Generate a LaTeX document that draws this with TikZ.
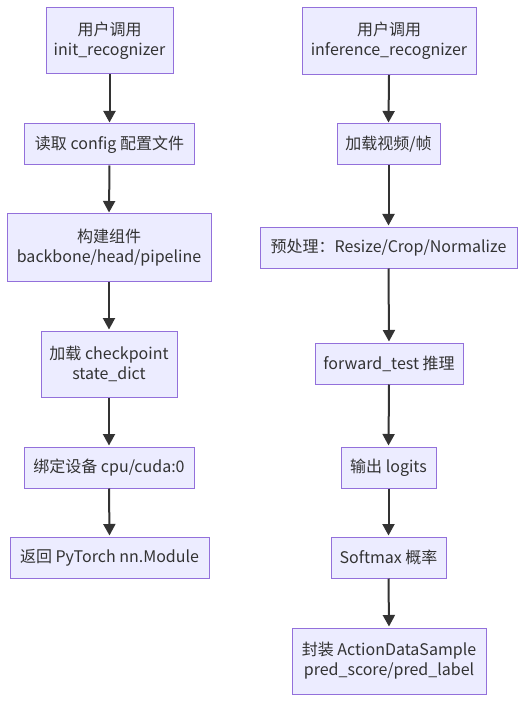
\documentclass[tikz,border=0pt]{standalone}
\usepackage{fontspec}
\setmainfont{Noto Sans CJK SC}
\usetikzlibrary{arrows.meta}
\definecolor{boxfill}{HTML}{ECECFF}
\definecolor{boxline}{HTML}{9370DB}
\definecolor{ink}{HTML}{333333}
\tikzset{
  box/.style={draw=boxline, fill=boxfill, line width=1pt, text=ink, align=center,
    inner sep=0pt, font=\fontsize{16pt}{20pt}\selectfont},
  flow/.style={draw=ink, line width=2pt, -{Triangle[length=11.5pt,width=12pt]}, shorten >=1pt}
}
\newcommand{\bx}[6]{\node[box, minimum width=#4pt, minimum height=#5pt] (#1) at (#2pt,-#3pt) {#6};}
\begin{document}
\begin{tikzpicture}[x=1pt,y=1pt]
\useasboundingbox (0,0) rectangle (525,-703);
\fill[white] (0,0) rectangle (525,-703);
\bx{L1}{109.5}{41}{127}{66}{用户调用\\init\_recognizer}
\bx{L2}{109.5}{144.5}{170}{41}{读取 config 配置文件}
\bx{L3}{109}{247.5}{204}{67}{构建组件\\backbone/head/pipeline}
\bx{L4}{109}{364}{136}{66}{加载 checkpoint\\state\_dict}
\bx{L5}{109}{467.5}{170}{41}{绑定设备 cpu/cuda:0}
\bx{L6}{109.5}{557.5}{199}{41}{返回 PyTorch nn.Module}
\bx{R1}{389}{41}{174}{67}{用户调用\\inference\_recognizer}
\bx{R2}{388.5}{144.5}{103}{41}{加载视频/帧}
\bx{R3}{388.5}{247.5}{257}{41}{预处理：Resize/Crop/Normalize}
\bx{R4}{389}{363.5}{148}{41}{forward\_test 推理}
\bx{R5}{388.5}{467.5}{95}{41}{输出 logits}
\bx{R6}{388.5}{557.5}{115}{41}{Softmax 概率}
\bx{R7}{389}{661}{194}{66}{封装 ActionDataSample\\pred\_score/pred\_label}
\draw[flow] (L1.south) -- (L2.north);
\draw[flow] (L2.south) -- (L3.north);
\draw[flow] (L3.south) -- (L4.north);
\draw[flow] (L4.south) -- (L5.north);
\draw[flow] (L5.south) -- (L6.north);
\draw[flow] (R1.south) -- (R2.north);
\draw[flow] (R2.south) -- (R3.north);
\draw[flow] (R3.south) -- (R4.north);
\draw[flow] (R4.south) -- (R5.north);
\draw[flow] (R5.south) -- (R6.north);
\draw[flow] (R6.south) -- (R7.north);
\end{tikzpicture}
\end{document}
